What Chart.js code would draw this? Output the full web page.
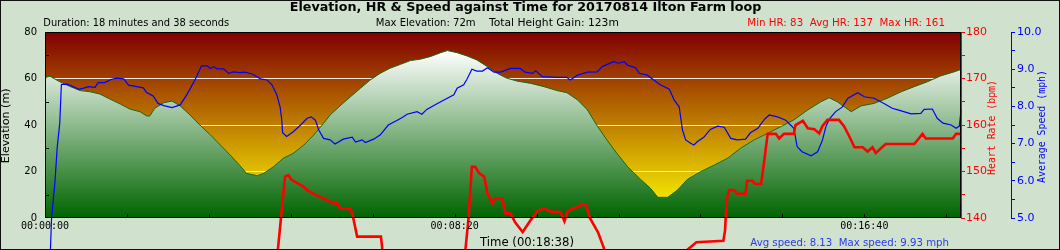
<!DOCTYPE html>
<html>
<head>
<meta charset="utf-8">
<script src="https://cdn.jsdelivr.net/npm/chart.js@4.4.0/dist/chart.umd.min.js"></script>
<style>
  html, body { margin: 0; padding: 0; background: #d0e1ce; }
  #wrap { width: 1060px; height: 250px; }
</style>
</head>
<body>
<div id="wrap"><canvas id="elevChart" width="1060" height="250"></canvas></div>
<script>
// time in seconds from start
const duration = 1118;

const elevTime = [0, 1, 6, 18, 31, 43, 55, 67, 79, 92,
  104, 116, 124, 128, 134, 145, 155, 165, 177, 189,
  202, 214, 226, 238, 246, 259, 267, 279, 291, 303,
  316, 328, 340, 348, 360, 373, 385, 397, 409, 421,
  434, 446, 458, 470, 483, 491, 503, 515, 527, 540,
  552, 564, 576, 593, 609, 625, 637, 650, 662, 674,
  686, 698, 711, 727, 739, 748, 760, 772, 784, 800,
  817, 833, 849, 865, 882, 898, 914, 931, 947, 957,
  967, 984, 996, 1012, 1028, 1045, 1061, 1077, 1093, 1110,
  1118];
const elevation = [60, 60.5, 61, 58.6, 56.5, 54.8, 54.3, 53.3, 51.2, 49,
  46.8, 45.7, 43.9, 43.9, 47.2, 49.6, 50.3, 48.2, 44.3, 40,
  35.7, 31.4, 27.1, 22.5, 19.2, 18.2, 19.2, 22.1, 25.7, 27.8,
  31.4, 35.7, 40.7, 44.3, 48.2, 52.2, 55.8, 59.4, 62.2, 64.4,
  66.1, 67.7, 68.3, 69.4, 71.1, 72, 71.1, 69.7, 68, 65.1,
  62.2, 60.1, 58.9, 57.9, 56.5, 54.8, 53.9, 50.8, 46.5, 39.6,
  33.5, 27.8, 22.1, 16.6, 12.8, 8.9, 8.9, 12, 16.6, 19.9,
  22.8, 25.7, 30, 33.5, 36.4, 39.3, 42.2, 46.5, 50, 51.7,
  50, 45.7, 48.2, 49.3, 51.5, 54.3, 56.5, 58.6, 61.1, 62.9,
  63.9];

const hrTime = [0, 150, 277, 288, 293, 297, 301, 308, 314, 320,
  328, 340, 352, 357, 360, 373, 375, 381, 410, 417,
  507, 513, 517, 521, 525, 530, 536, 540, 546, 550,
  558, 562, 568, 574, 583, 593, 601, 609, 617, 629,
  634, 638, 646, 656, 660, 665, 675, 683, 693, 773,
  783, 795, 828, 830, 832, 835, 841, 845, 855, 857,
  863, 867, 874, 878, 882, 892, 896, 902, 914, 916,
  925, 931, 939, 945, 949, 955, 969, 975, 981, 988,
  998, 1004, 1010, 1014, 1026, 1061, 1071, 1075, 1108, 1112,
  1118];
const heartRate = [83, 105, 120, 140, 148.9, 149.2, 148.2, 147.5, 146.9, 146,
  145.2, 144.2, 143.2, 143.1, 142.1, 141.9, 141, 136, 136, 125,
  125, 133, 140, 151, 151, 149.6, 148.9, 145.3, 143.2, 144.2,
  144.2, 141, 141, 139, 137, 139.6, 141.5, 142.1, 141.4, 141.3,
  139.3, 141.5, 142.1, 142.9, 142.9, 140, 136.9, 133.1, 125, 125,
  133, 134.8, 135.1, 137.3, 143.9, 146, 146, 145.2, 145.2, 148,
  148, 147.3, 147.3, 152.5, 158.1, 158.1, 157.1, 158.1, 158.1, 160,
  160.9, 159.3, 159.1, 158.2, 159.8, 161.1, 161.1, 159.8, 157.8, 155.2,
  155.2, 154.3, 155.2, 154, 155.9, 155.9, 158.1, 157.1, 157.1, 158.1,
  158.1];

const speedTime = [0, 8, 12, 15, 18, 20, 27, 35, 41, 47,
  53, 61, 65, 73, 81, 88, 96, 102, 112, 120,
  124, 132, 138, 145, 155, 165, 173, 183, 191, 198,
  202, 206, 210, 218, 224, 230, 238, 244, 253, 263,
  271, 277, 283, 287, 289, 290, 295, 303, 312, 320,
  325, 330, 334, 340, 348, 354, 364, 375, 379, 387,
  391, 401, 409, 419, 430, 436, 442, 454, 460, 466,
  479, 487, 499, 503, 511, 515, 521, 527, 534, 540,
  548, 556, 568, 580, 586, 595, 599, 607, 625, 637,
  641, 650, 662, 674, 680, 694, 700, 707, 711, 721,
  725, 735, 743, 751, 762, 768, 774, 778, 782, 788,
  792, 796, 804, 812, 821, 829, 837, 845, 855, 861,
  870, 878, 884, 894, 904, 910, 914, 918, 924, 935,
  943, 949, 953, 957, 965, 973, 980, 992, 1000, 1012,
  1024, 1034, 1042, 1057, 1069, 1073, 1083, 1089, 1096, 1106,
  1112, 1116, 1118];
const speed = [0, 5.0, 5.93, 6.92, 7.55, 8.59, 8.6, 8.53, 8.46, 8.49,
  8.53, 8.51, 8.64, 8.64, 8.73, 8.76, 8.74, 8.57, 8.53, 8.5,
  8.37, 8.28, 8.08, 8.02, 7.97, 8.04, 8.31, 8.71, 9.09, 9.09,
  9.02, 9.07, 9.01, 9.01, 8.89, 8.93, 8.91, 8.92, 8.87, 8.74,
  8.71, 8.58, 8.31, 7.98, 7.63, 7.29, 7.19, 7.32, 7.5, 7.68,
  7.72, 7.63, 7.37, 7.14, 7.1, 6.99, 7.12, 7.17, 7.04, 7.1,
  7.03, 7.12, 7.23, 7.5, 7.63, 7.7, 7.79, 7.86, 7.79, 7.92,
  8.08, 8.17, 8.31, 8.49, 8.58, 8.73, 9.0, 8.95, 8.95, 9.04,
  8.92, 8.92, 9.02, 9.02, 8.92, 8.89, 8.96, 8.8, 8.78, 8.78,
  8.71, 8.84, 8.92, 8.93, 9.07, 9.2, 9.16, 9.2, 9.11, 9.04,
  8.89, 8.84, 8.71, 8.58, 8.46, 8.17, 7.99, 7.37, 7.1, 7.01,
  6.96, 7.05, 7.17, 7.38, 7.47, 7.44, 7.14, 7.1, 7.12, 7.29,
  7.41, 7.65, 7.77, 7.72, 7.63, 7.5, 7.41, 6.92, 6.78, 6.67,
  6.78, 7.1, 7.45, 7.65, 7.86, 7.98, 8.22, 8.37, 8.26, 8.22,
  8.08, 7.95, 7.9, 7.8, 7.81, 7.92, 7.93, 7.68, 7.55, 7.5,
  7.41, 7.47, 7.9];

// tick labels
const timeLabels = [0, 500, 1000];
const elevTicks = [0, 20, 40, 60, 80];
const hrTicks = [140, 150, 160, 170, 180];
const speedTicks = [5, 6, 7, 8, 9, 10];

function pad2(n) { return String(n).padStart(2, '0'); }
function fmtTime(sec) {
    return pad2(Math.floor(sec / 3600)) + ':' + pad2(Math.floor(sec / 60) % 60) + ':' + pad2(sec % 60);
}
function toPoints(xs, ys) { return xs.map((t, i) => ({ x: t, y: ys[i] })); }

// draw text sized to a target width
function fitText(ctx, text, weight, family, width, x, y, align, color, angle) {
    ctx.save();
    ctx.font = weight + ' 20px "' + family + '"';
    const size = 20 * width / ctx.measureText(text).width;
    ctx.font = weight + ' ' + size.toFixed(2) + 'px "' + family + '"';
    ctx.fillStyle = color;
    ctx.textAlign = align;
    ctx.textBaseline = 'middle';
    ctx.translate(x, y);
    if (angle) ctx.rotate(angle);
    ctx.fillText(text, 0, 0);
    ctx.restore();
}

const chartDecor = {
    id: 'chartDecor',
    beforeDraw(chart) {
        const { ctx, chartArea: a } = chart;
        ctx.save();
        ctx.fillStyle = '#d0e1ce';
        ctx.fillRect(0, 0, chart.width, chart.height);
        const g = ctx.createLinearGradient(0, a.top, 0, a.bottom);
        g.addColorStop(0, '#800000');
        g.addColorStop(1, '#ffff00');
        ctx.fillStyle = g;
        ctx.fillRect(a.left, a.top, a.right - a.left, a.bottom - a.top);
        ctx.restore();
    },
    afterDatasetsDraw(chart) {
        const { ctx, chartArea: a } = chart;
        const xs = chart.scales.x, ye = chart.scales.yElev;
        ctx.save();
        ctx.strokeStyle = '#000';
        ctx.lineWidth = 1;
        ctx.beginPath();
        for (let v = 100; v < duration; v += 100) {
            const px = Math.round(xs.getPixelForValue(v)) + 0.5;
            ctx.moveTo(px, a.bottom);
            ctx.lineTo(px, a.bottom - 4);
        }
        for (let v = 10; v < 80; v += 20) {
            const py = Math.round(ye.getPixelForValue(v)) + 0.5;
            ctx.moveTo(a.left, py);
            ctx.lineTo(a.left + 4, py);
        }
        ctx.stroke();
        ctx.strokeRect(a.left + 0.5, a.top + 0.5, a.right - a.left - 1, a.bottom - a.top - 1);
        ctx.restore();
    },
    afterDraw(chart) {
        const ctx = chart.ctx;
        const xs = chart.scales.x, a = chart.chartArea;
        // time labels under the axis
        ctx.save();
        ctx.font = '10px "DejaVu Sans Mono"';
        ctx.fillStyle = '#000';
        ctx.textAlign = 'center';
        ctx.textBaseline = 'middle';
        timeLabels.forEach(v => ctx.fillText(fmtTime(v), xs.getPixelForValue(v), a.bottom + 8));
        ctx.restore();

        fitText(ctx, 'Elevation, HR & Speed against Time for 20170814 Ilton Farm loop', 'bold', 'DejaVu Sans', 472, 525.5, 7.5, 'center', '#000');
        fitText(ctx, 'Duration: 18 minutes and 38 seconds', 'normal', 'DejaVu Sans', 186, 43.3, 23, 'left', '#000');
        fitText(ctx, 'Max Elevation: 72m', 'normal', 'DejaVu Sans', 100, 375.7, 23, 'left', '#000');
        fitText(ctx, 'Total Height Gain: 123m', 'normal', 'DejaVu Sans', 130, 489, 23, 'left', '#000');
        fitText(ctx, 'Min HR: 83  Avg HR: 137  Max HR: 161', 'normal', 'DejaVu Sans', 197.7, 747.3, 23, 'left', '#ff0000');
        fitText(ctx, 'Time (00:18:38)', 'normal', 'DejaVu Sans', 94, 527, 243, 'center', '#000');
        fitText(ctx, 'Avg speed: 8.13  Max speed: 9.93 mph', 'normal', 'DejaVu Sans', 198.7, 750.3, 243, 'left', '#2a3af0');
        fitText(ctx, 'Elevation (m)', 'normal', 'DejaVu Sans', 75, 6.5, 125.8, 'center', '#000', -Math.PI / 2);
        fitText(ctx, 'Heart Rate (bpm)', 'normal', 'DejaVu Sans Mono', 95, 992.5, 127.5, 'center', '#ff0000', -Math.PI / 2);
        fitText(ctx, 'Average Speed (mph)', 'normal', 'DejaVu Sans Mono', 113, 1042.5, 126.5, 'center', '#0000ff', -Math.PI / 2);
        ctx.save();
        ctx.strokeStyle = '#111';
        ctx.lineWidth = 1;
        ctx.strokeRect(0.5, 0.5, chart.width - 1, chart.height - 1);
        ctx.restore();
    }
};

const ctx = document.getElementById('elevChart').getContext('2d');

new Chart(ctx, {
    type: 'line',
    data: {
        datasets: [
            {
                label: 'Heart Rate',
                data: toPoints(hrTime, heartRate),
                yAxisID: 'yHr',
                borderColor: '#ff0000',
                borderWidth: 2.6,
                pointRadius: 0,
                fill: false,
                clip: false,
                order: 0
            },
            {
                label: 'Speed',
                data: toPoints(speedTime, speed),
                yAxisID: 'ySpeed',
                borderColor: '#0000ff',
                borderWidth: 1.2,
                pointRadius: 0,
                fill: false,
                clip: false,
                order: 1
            },
            {
                label: 'Elevation',
                data: toPoints(elevTime, elevation),
                yAxisID: 'yElev',
                borderColor: '#1a6a12',
                borderWidth: 1,
                pointRadius: 0,
                fill: 'start',
                backgroundColor: function(c) {
                    const ch = c.chart;
                    if (!ch.chartArea) return '#90c090';
                    const top = ch.scales.yElev.getPixelForValue(72);
                    const g = ch.ctx.createLinearGradient(0, top, 0, ch.chartArea.bottom);
                    g.addColorStop(0, '#ffffff');
                    g.addColorStop(1, '#006400');
                    return g;
                },
                order: 2
            }
        ]
    },
    options: {
        responsive: false,
        animation: false,
        events: [],
        layout: { padding: { top: 32, bottom: 18, left: 0, right: 0 } },
        plugins: { legend: { display: false }, tooltip: { enabled: false } },
        scales: {
            x: {
                type: 'linear',
                min: 0,
                max: duration,
                ticks: {
                    stepSize: 100,
                    maxTicksLimit: 100,
                    autoSkip: false,
                    maxRotation: 0,
                    display: false
                },
                grid: { display: false, drawTicks: false },
                border: { display: false },
                afterFit: s => { s.height = 14; }
            },
            yElev: {
                position: 'left',
                min: 0,
                max: 80,
                ticks: {
                    stepSize: 10,
                    padding: 8,
                    color: '#000',
                    font: { family: 'DejaVu Sans', size: 10 },
                    callback: v => elevTicks.includes(v) ? String(v) : ''
                },
                grid: {
                    drawTicks: false,
                    color: c => (c.tick && [20, 40, 60].includes(c.tick.value)) ? '#f2e8dc' : 'rgba(0,0,0,0)'
                },
                border: { display: false },
                afterFit: s => { s.width = 45; }
            },
            yHr: {
                position: 'right',
                weight: 1,
                min: 140,
                max: 180,
                ticks: {
                    stepSize: 5,
                    padding: 1,
                    color: '#ff0000',
                    font: { family: 'DejaVu Sans', size: 11 },
                    callback: v => hrTicks.includes(v) ? String(v) : ''
                },
                grid: { drawOnChartArea: false, color: '#ff0000', tickLength: 4 },
                border: { color: '#ff0000' },
                afterFit: s => { s.width = 50; }
            },
            ySpeed: {
                position: 'right',
                weight: 2,
                min: 5,
                max: 10,
                ticks: {
                    stepSize: 0.5,
                    padding: 2,
                    color: '#0000ff',
                    font: { family: 'DejaVu Sans', size: 11 },
                    callback: v => speedTicks.includes(v) ? v.toFixed(1) : ''
                },
                grid: { drawOnChartArea: false, color: '#0000ff', tickLength: 4 },
                border: { color: '#0000ff' },
                afterFit: s => { s.width = 49; }
            }
        }
    },
    plugins: [chartDecor]
});
</script>
</body>
</html>
